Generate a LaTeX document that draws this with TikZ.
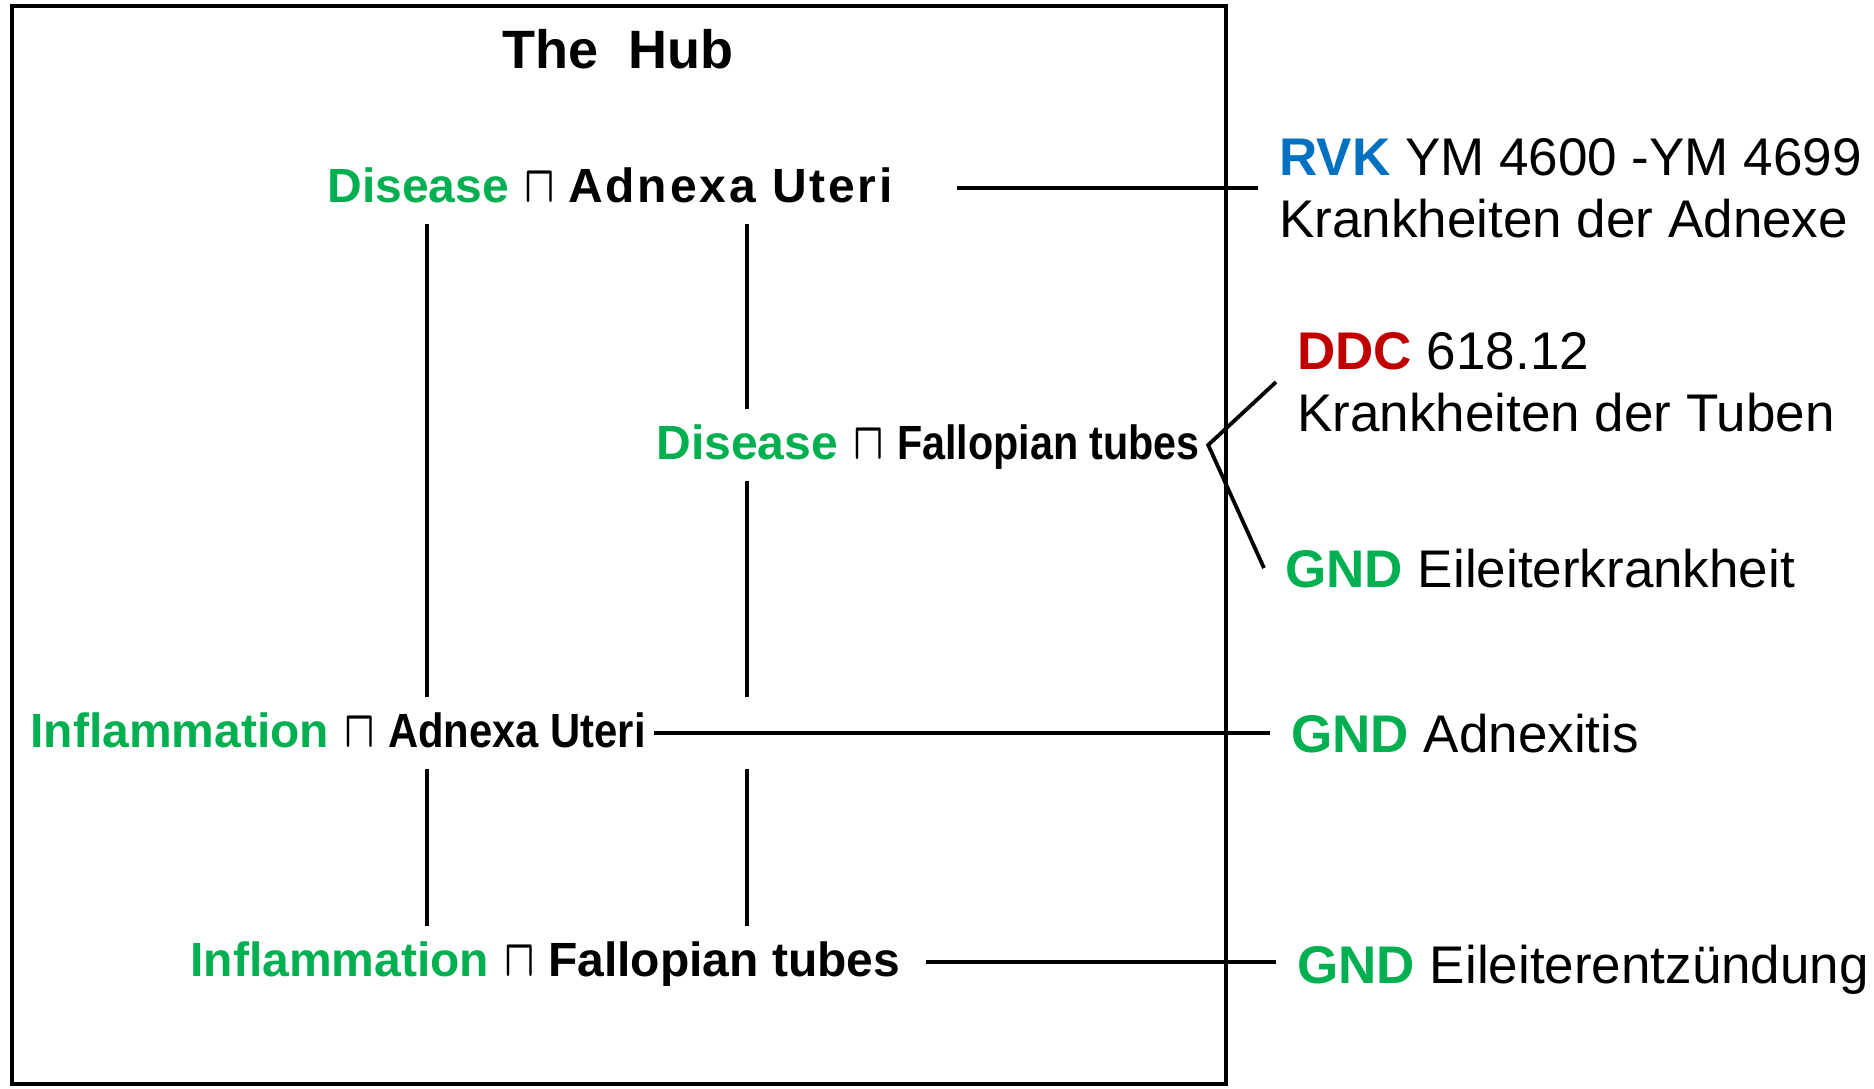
\documentclass[tikz,border=0pt]{standalone}
\usepackage{fontspec}
\setmainfont{Liberation Sans}
\usetikzlibrary{calc}
\definecolor{HubGreen}{RGB}{0,176,80}
\definecolor{RvkBlue}{RGB}{0,112,192}
\definecolor{DdcRed}{RGB}{192,0,0}
\newcommand{\meet}{\hspace{1pt}\scalebox{0.8}[1.05]{\boldmath$\sqcap$}}

\begin{document}
\begin{tikzpicture}[x=.5pt,y=-.5pt,
  concept/.style={anchor=base west,font=\fontsize{24}{28}\selectfont\bfseries,
    text height=19pt,text depth=5pt,inner xsep=4pt,inner ysep=6pt},
  target/.style={anchor=base west,align=left,font=\fontsize{26.5}{31}\selectfont,
    inner xsep=10.5pt,inner ysep=0pt},
  link/.style={line width=1.9pt}]
  \useasboundingbox (0,0) rectangle (1874,1088);
  \draw[line width=2.1pt] (12,6) rectangle (1226,1084);
  \node[font=\fontsize{27}{32}\selectfont\bfseries,anchor=base] (hub) at (618,68) {The\ \ Hub};
  % concepts in the hub
  \node[concept] (disAU) at (319,202)
    {\textcolor{HubGreen}{Disease} \meet{} {\addfontfeature{LetterSpace=6}Adnexa Uteri}};
  \node[concept] (disFT) at (648,459)
    {\textcolor{HubGreen}{Disease} \meet{} {\addfontfeature{FakeStretch=0.86}Fallopian tubes}};
  \node[concept] (infAU) at (22,747)
    {\textcolor{HubGreen}{Inflammation} \meet{} {\addfontfeature{FakeStretch=0.87}Adnexa Uteri}};
  \node[concept] (infFT) at (182,976)
    {\textcolor{HubGreen}{Inflammation} \meet{} Fallopian tubes};
  % classes outside
  \node[target,anchor=west] (rvk) at (1258,188)
    {\textbf{\textcolor{RvkBlue}{RVK}} YM 4600 -YM 4699\\Krankheiten der Adnexe};
  \node[target,anchor=west] (ddc) at (1276,382)
    {\textbf{\textcolor{DdcRed}{DDC}} 618.12\\Krankheiten der Tuben};
  \node[target] (gndEK) at (1264,587) {\textbf{\textcolor{HubGreen}{GND}} Eileiterkrankheit};
  \node[target] (gndAX) at (1270,752) {\textbf{\textcolor{HubGreen}{GND}} Adnexitis};
  \node[target] (gndEE) at (1276,983) {\textbf{\textcolor{HubGreen}{GND}} Eileiterentzündung};
  \coordinate (colA) at (427,0);
  \coordinate (colB) at (747,0);
  \draw[link] (disAU.south -| colA) -- (infAU.north -| colA);
  \draw[link] (infAU.south -| colA) -- (infFT.north -| colA);
  \draw[link] (disAU.south -| colB) -- (disFT.north -| colB);
  \draw[link] (disFT.south -| colB) -- (infAU.north -| colB);
  \draw[link] (infAU.south -| colB) -- (infFT.north -| colB);
  \draw[link,shorten <=28pt] (disAU.east) -- (disAU.east -| rvk.west);
  \draw[link] (infAU.east) -- (infAU.east -| gndAX.west);
  \draw[link,shorten <=8.5pt] (infFT.east) -- (infFT.east -| gndEE.west);
  \draw[link] (ddc.west) -- (disFT.east) -- (gndEK.west);
\end{tikzpicture}
\end{document}
